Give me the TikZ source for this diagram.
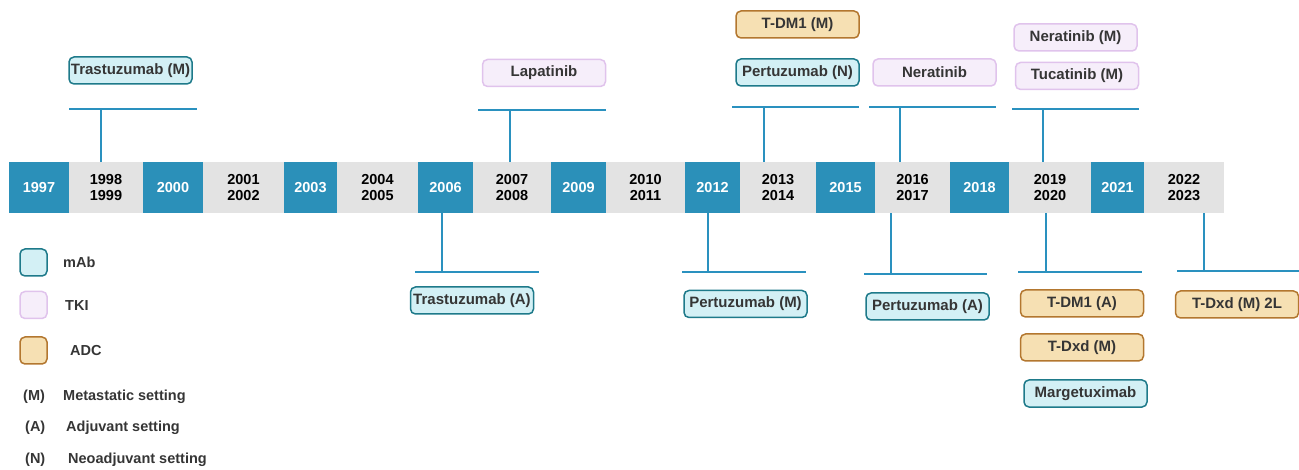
\documentclass[tikz,border=0pt]{standalone}
\usepackage{fontspec}
\setmainfont{Liberation Sans}
\definecolor{tlblue}{HTML}{2B90B9}
\definecolor{tlgray}{HTML}{E3E3E3}
\definecolor{stemblue}{HTML}{2A91BF}
\definecolor{mabfill}{HTML}{D3F0F5}
\definecolor{mabdraw}{HTML}{1E7A8A}
\definecolor{tkifill}{HTML}{F6EEFA}
\definecolor{tkidraw}{HTML}{E0C3EC}
\definecolor{adcfill}{HTML}{F6E0B3}
\definecolor{adcdraw}{HTML}{B3772F}
\definecolor{labeltext}{HTML}{353535}
\tikzset{
	drug/.style={rounded corners=5pt,line width=1.5pt,minimum width=123pt,minimum height=27pt,inner sep=0pt,
		text=labeltext,font=\fontsize{15}{16}\selectfont\bfseries},
	mab/.style={drug,draw=mabdraw,fill=mabfill},
	tki/.style={drug,draw=tkidraw,fill=tkifill},
	adc/.style={drug,draw=adcdraw,fill=adcfill},
	legbox/.style={minimum width=27pt,minimum height=27pt},
	legtext/.style={anchor=west,inner sep=0pt,text=labeltext,font=\fontsize{14.5}{16}\selectfont\bfseries},
	stem/.style={draw=stemblue,line width=2.6pt},
	yearbox/.style={inner sep=0pt,minimum height=51pt,align=center,font=\fontsize{14.5}{16}\selectfont\bfseries},
}
\begin{document}
\begin{tikzpicture}[
		x={(1pt,0pt)},
		y={(0pt,-1pt)},
	]
		\useasboundingbox (0,0) rectangle (1299,470);
		
		\foreach \l/\r/\c/\tc/\nm/\t in {9/69/tlblue/white/y1997/1997, 69/143/tlgray/black/y1998/{1998\\1999},
			143/203/tlblue/white/y2000/2000, 203/284/tlgray/black/y2001/{2001\\2002},
			284/337/tlblue/white/y2003/2003, 337/418/tlgray/black/y2004/{2004\\2005},
			418/473/tlblue/white/y2006/2006, 473/551/tlgray/black/y2007/{2007\\2008},
			551/606/tlblue/white/y2009/2009, 606/685/tlgray/black/y2010/{2010\\2011},
			685/740/tlblue/white/y2012/2012, 740/816/tlgray/black/y2013/{2013\\2014},
			816/875/tlblue/white/y2015/2015, 875/950/tlgray/black/y2016/{2016\\2017},
			950/1009/tlblue/white/y2018/2018, 1009/1091/tlgray/black/y2019/{2019\\2020},
			1091/1144/tlblue/white/y2021/2021, 1144/1224/tlgray/black/y2022/{2022\\2023}}{
			\node[yearbox,fill=\c,text=\tc,minimum width={(\r-\l)*1pt}] (\nm) at ({(\l+\r)/2},187.5) {\t};
		}
		
		\foreach \vx/\by/\l/\r/\blk/\nm in {101/109/69/197/y1998/ta, 510/110/478/606/y2007/tb,
			764/107/732/859/y2013/tc, 900/107/869/996/y2016/td, 1043/109/1012/1139/y2019/te}{
			\coordinate (\nm) at (\vx,\by);
			\coordinate (\nm l) at (\l,\by);
			\coordinate (\nm r) at (\r,\by);
			\draw[stem] (\nm l) -- (\nm r);
			\draw[stem] (\nm) -- (\nm |- \blk.north);
		}
		\foreach \vx/\by/\l/\r/\blk/\nm in {442/272/415/539/y2006/ba, 708/272/682/806/y2012/bb,
			891/274/864/987/y2016/bc, 1046/272/1018/1142/y2019/bd, 1204/271/1177/1299/y2022/be}{
			\coordinate (\nm) at (\vx,\by);
			\coordinate (\nm l) at (\l,\by);
			\coordinate (\nm r) at (\r,\by);
			\draw[stem] (\nm l) -- (\nm r);
			\draw[stem] (\nm) -- (\nm |- \blk.south);
		}
		
		\node[mab] (trasM) at (130.5,70.5) {Trastuzumab (M)};
		\node[tki] (lapa) at (544,73) {Lapatinib};
		\node[adc] (tdmM) at (797.5,24.5) {T-DM1 (M)};
		\node[mab] (pertN) at (797.5,72.5) {Pertuzumab (N)};
		\node[tki] (nera) at (934.5,72.5) {Neratinib};
		\node[tki] (neraM) at (1075.5,37.5) {Neratinib (M)};
		\node[tki] (tucaM) at (1077,76) {Tucatinib (M)};
		
		\node[mab] (trasA) at (472,300.5) {Trastuzumab (A)};
		\node[mab] (pertM) at (745.5,304) {Pertuzumab (M)};
		\node[mab] (pertA) at (927.5,306.5) {Pertuzumab (A)};
		\node[adc] (tdmA) at (1082,303.5) {T-DM1 (A)};
		\node[adc] (tdxM) at (1082,347.5) {T-Dxd (M)};
		\node[mab] (marg) at (1085.5,393.5) {Margetuximab};
		\node[adc] (tdx2L) at (1237,304.5) {T-Dxd (M) 2L};
		
		\node[mab,legbox] (legmab) at (33.5,262.5) {};
		\node[tki,legbox] (legtki) at (33.5,305) {};
		\node[adc,legbox] (legadc) at (33.5,350.5) {};
		\node[legtext] (legmabtxt) at (63,262.5) {mAb};
		\node[legtext] (legtkitxt) at (65,306) {TKI};
		\node[legtext] (legadctxt) at (70,350.5) {ADC};
		\node[legtext] (legM) at (23,397) {(M)};
		\node[legtext] (legMtxt) at (63,397) {Metastatic setting};
		\node[legtext] (legA) at (25,428) {(A)};
		\node[legtext] (legAtxt) at (66,428) {Adjuvant setting};
		\node[legtext] (legN) at (25,460) {(N)};
		\node[legtext] (legNtxt) at (68,460) {Neoadjuvant setting};
	\end{tikzpicture}
\end{document}
